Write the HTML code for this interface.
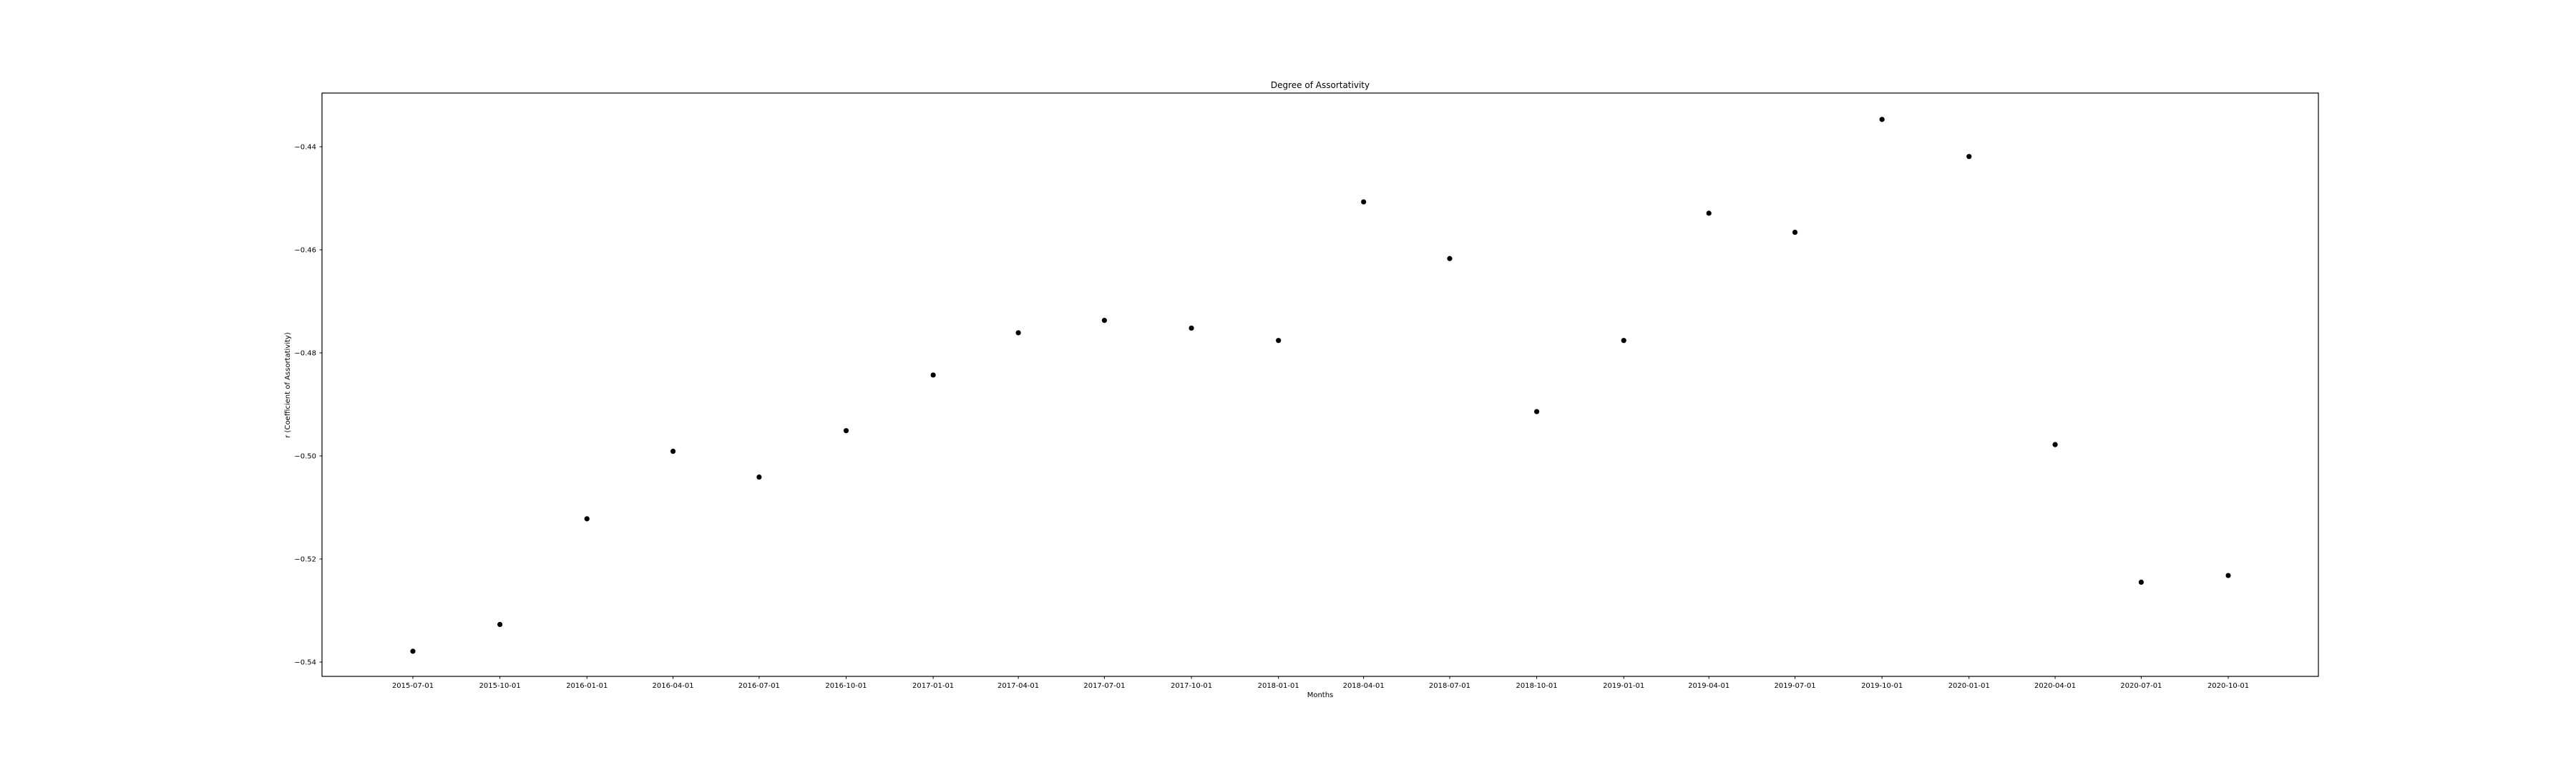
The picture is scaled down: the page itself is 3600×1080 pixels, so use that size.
<!DOCTYPE html>
<html><head><meta charset="utf-8"><style>
html,body{margin:0;padding:0;background:#fff;}
svg{display:block;font-family:"DejaVu Sans","Liberation Sans",sans-serif;}
</style></head><body>
<svg id="chart" width="3600" height="1080" viewBox="0 0 3600 1080">
<rect x="0" y="0" width="3600" height="1080" fill="#fff"/>
<text x="1845" y="123" font-size="12" text-anchor="middle" fill="#000">Degree of Assortativity</text>
<text x="1845" y="974" font-size="10" text-anchor="middle" fill="#000">Months</text>
<text transform="translate(405,538) rotate(-90)" font-size="10" text-anchor="middle" fill="#000">r (Coefficient of Assortativity)</text>
<g id="ticks"></g>
<g id="points"></g>
<rect x="450" y="130" width="2790" height="815" fill="none" stroke="#000" stroke-width="1.2"/>
</svg>
<script>
const dates = ["2015-07-01","2015-10-01","2016-01-01","2016-04-01","2016-07-01","2016-10-01","2017-01-01","2017-04-01","2017-07-01","2017-10-01","2018-01-01","2018-04-01","2018-07-01","2018-10-01","2019-01-01","2019-04-01","2019-07-01","2019-10-01","2020-01-01","2020-04-01","2020-07-01","2020-10-01"];
const values = [-0.5379,-0.5327,-0.5122,-0.4991,-0.5041,-0.4951,-0.4843,-0.4761,-0.4737,-0.4752,-0.4776,-0.4507,-0.4617,-0.4914,-0.4776,-0.4529,-0.4566,-0.4347,-0.4419,-0.4978,-0.5245,-0.5232];
const yTicks = [-0.54,-0.52,-0.50,-0.48,-0.46,-0.44];
const xTickLabels = ["2015-07-01","2015-10-01","2016-01-01","2016-04-01","2016-07-01","2016-10-01","2017-01-01","2017-04-01","2017-07-01","2017-10-01","2018-01-01","2018-04-01","2018-07-01","2018-10-01","2019-01-01","2019-04-01","2019-07-01","2019-10-01","2020-01-01","2020-04-01","2020-07-01","2020-10-01"];

const NS = "http://www.w3.org/2000/svg";
const L = 450, R = 3240, T = 130, B = 945;
const d0 = Date.parse("2015-07-01"), d1 = Date.parse("2020-10-01");
const x0 = 577, x1 = 3114;
function xs(d){ return x0 + (Date.parse(d) - d0) / (d1 - d0) * (x1 - x0); }
const yA = -0.54, yB = -0.44, pA = 925, pB = 205;
function ys(v){ return pA + (v - yA) / (yB - yA) * (pB - pA); }

const tg = document.getElementById("ticks");
yTicks.forEach(v => {
  const y = ys(v);
  const ln = document.createElementNS(NS, "line");
  ln.setAttribute("x1", L - 3.5); ln.setAttribute("x2", L); ln.setAttribute("y1", y); ln.setAttribute("y2", y);
  ln.setAttribute("stroke", "#000");
  
  
  tg.appendChild(ln);
  const t = document.createElementNS(NS, "text");
  t.setAttribute("x", L - 8); t.setAttribute("y", y + 3.5);
  t.setAttribute("font-size", "10"); t.setAttribute("text-anchor", "end");
  t.textContent = "\u2212" + Math.abs(v).toFixed(2);
  
  
  tg.appendChild(t);
});
xTickLabels.forEach(d => {
  const x = xs(d);
  const ln = document.createElementNS(NS, "line");
  ln.setAttribute("x1", x); ln.setAttribute("x2", x); ln.setAttribute("y1", B); ln.setAttribute("y2", B + 3.5);
  ln.setAttribute("stroke", "#000");
  
  
  tg.appendChild(ln);
  const t = document.createElementNS(NS, "text");
  t.setAttribute("x", x); t.setAttribute("y", B + 16);
  t.setAttribute("font-size", "10"); t.setAttribute("text-anchor", "middle");
  t.textContent = d;
  
  
  tg.appendChild(t);
});
const pg = document.getElementById("points");
dates.forEach((d, i) => {
  const c = document.createElementNS(NS, "circle");
  c.setAttribute("cx", xs(d)); c.setAttribute("cy", ys(values[i])); c.setAttribute("r", 3.6);
  c.setAttribute("fill", "#000");
  
  
  pg.appendChild(c);
});
</script>
</body></html>
